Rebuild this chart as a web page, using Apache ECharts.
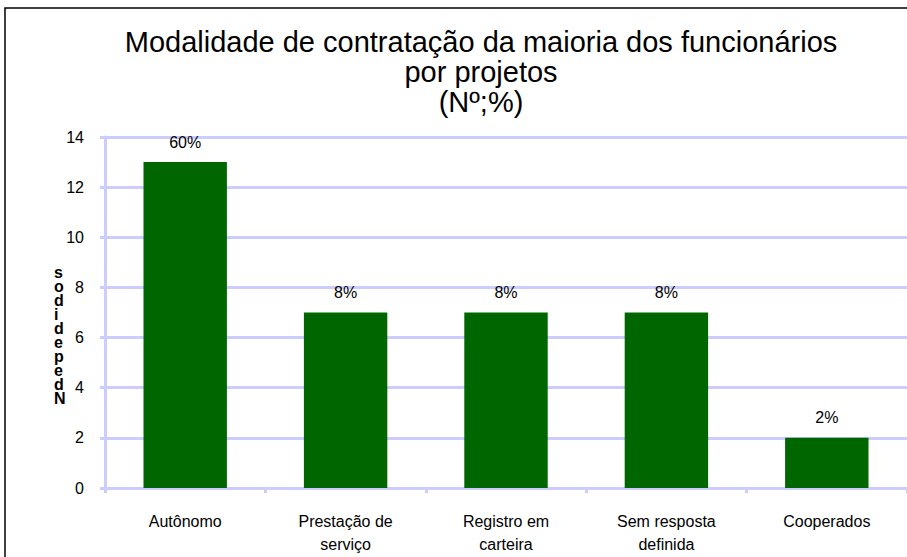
<!DOCTYPE html>
<html>
<head>
<meta charset="utf-8">
<script src="https://cdn.jsdelivr.net/npm/echarts@6/dist/echarts.min.js"></script>
<style>
  html, body { margin: 0; padding: 0; background: #fff; }
  #chart { width: 907px; height: 557px; }
</style>
</head>
<body>
<div id="chart"></div>
<script>
var categories = ['Autônomo', 'Prestação de\nserviço', 'Registro em\ncarteira', 'Sem resposta\ndefinida', 'Cooperados'];
var counts = [13, 7, 7, 7, 2];
var percents = ['60%', '8%', '8%', '8%', '2%'];
var yTicks = [0, 2, 4, 6, 8, 10, 12, 14];

var grid = '#ccccff';
var bar = '#006600';
var font = '"Liberation Sans", Arial, sans-serif';

var chart = echarts.init(document.getElementById('chart'), null, { renderer: 'svg' });
chart.setOption({
  animation: false,
  backgroundColor: '#fff',
  title: {
    text: 'Modalidade de contratação da maioria dos funcionários\npor projetos\n(Nº;%)',
    left: 476,
    textAlign: 'center',
    top: 22,
    textStyle: {
      fontFamily: font,
      fontSize: 29,
      fontWeight: 'normal',
      color: '#000',
      lineHeight: 30
    }
  },
  graphic: [
    {
      type: 'rect',
      shape: { x: 5, y: 8, width: 920, height: 570 },
      style: { fill: 'none', stroke: '#000', lineWidth: 1.5 }
    },
    {
      type: 'text',
      left: 54,
      top: 264,
      style: {
        text: 's\no\nd\ni\nd\ne\np\ne\nd\nN',
        font: 'bold 16px ' + font,
        lineHeight: 14,
        fill: '#000',
        align: 'center'
      }
    }
  ],
  grid: { left: 105, right: -8, top: 137, bottom: 69, containLabel: false },
  xAxis: {
    type: 'category',
    data: categories,
    axisLine: { lineStyle: { color: grid, width: 3 } },
    axisTick: { show: true, length: 5, lineStyle: { color: grid, width: 3 } },
    axisLabel: {
      color: '#000',
      fontFamily: font,
      fontSize: 16,
      lineHeight: 23,
      margin: 22
    }
  },
  yAxis: {
    type: 'value',
    min: 0,
    max: 14,
    interval: 2,
    axisLine: { show: true, lineStyle: { color: grid, width: 3 } },
    axisTick: { show: true, length: 5, lineStyle: { color: grid, width: 3 } },
    splitLine: { lineStyle: { color: grid, width: 3 } },
    axisLabel: {
      color: '#000',
      fontFamily: font,
      fontSize: 16,
      margin: 21,
      formatter: function (v) { return yTicks.indexOf(v) >= 0 ? String(v) : ''; }
    }
  },
  series: [{
    type: 'bar',
    data: counts,
    barWidth: '52%',
    itemStyle: { color: bar },
    label: {
      show: true,
      position: 'top',
      distance: 12,
      color: '#000',
      fontFamily: font,
      fontSize: 16,
      formatter: function (p) { return percents[p.dataIndex]; }
    }
  }]
});
window.addEventListener('resize', function () { chart.resize(); });
</script>
</body>
</html>
